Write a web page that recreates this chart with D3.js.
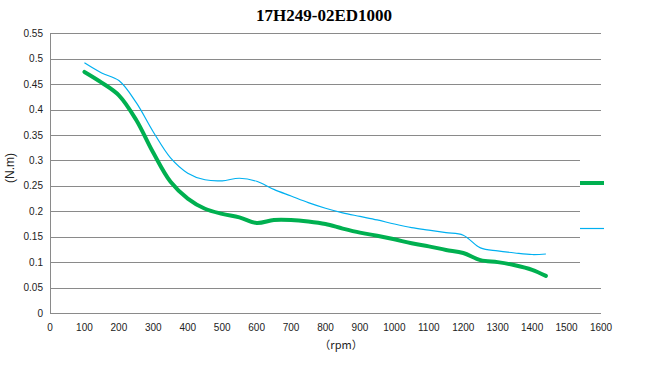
<!DOCTYPE html>
<html>

<head>
  <title>17H249-02ED1000</title>
  <script src="https://cdn.jsdelivr.net/npm/d3@7"></script>
  <style>
    body { margin: 0; background: #fff; }
  </style>
</head>

<body>
  <svg width="647" height="365" id="mainsvg"></svg>
  <script>
    const rpm = [100, 150, 200, 250, 300, 350, 400, 450, 500, 550, 600, 650, 700, 750,
      800, 850, 900, 950, 1000, 1050, 1100, 1150, 1200, 1250, 1300, 1350, 1400, 1440];
    const greenTorque = [0.474, 0.453, 0.428, 0.380, 0.315, 0.258, 0.225, 0.205, 0.195, 0.188, 0.177, 0.183, 0.183, 0.180,
      0.175, 0.166, 0.158, 0.152, 0.145, 0.137, 0.131, 0.124, 0.118, 0.104, 0.100, 0.094, 0.085, 0.073];
    const blueTorque = [0.492, 0.472, 0.457, 0.414, 0.356, 0.305, 0.275, 0.262, 0.260, 0.265, 0.259, 0.243, 0.230, 0.217,
      0.206, 0.197, 0.190, 0.183, 0.175, 0.168, 0.163, 0.158, 0.153, 0.128, 0.122, 0.118, 0.115, 0.116];
    const xTicks = d3.range(0, 1601, 100);
    const yTicks = [0, 0.05, 0.1, 0.15, 0.2, 0.25, 0.3, 0.35, 0.4, 0.45, 0.5, 0.55];

    const svg = d3.select('#mainsvg');
    const x = d3.scaleLinear().domain([0, 1600]).range([50, 601]);
    const y = d3.scaleLinear().domain([0, 0.55]).range([313, 33.3]);
    const grid = '#8a8a8a';
    const tickFont = '"Liberation Sans", Arial, sans-serif';

    // title
    svg.append('text')
      .attr('x', 324).attr('y', 21)
      .attr('text-anchor', 'middle')
      .attr('font-family', '"Liberation Serif", "DejaVu Serif", serif')
      .attr('font-weight', 'bold')
      .attr('font-size', 17)
      .text('17H249-02ED1000');

    // gridlines
    svg.selectAll('line.grid').data(yTicks).join('line')
      .attr('class', 'grid')
      .attr('x1', x(0)).attr('x2', x(1600))
      .attr('y1', d => Math.round(y(d)) + 0.5).attr('y2', d => Math.round(y(d)) + 0.5)
      .attr('stroke', grid).attr('stroke-width', 1);

    // y axis line
    svg.append('line')
      .attr('x1', x(0) + 0.5).attr('x2', x(0) + 0.5)
      .attr('y1', y(0.55)).attr('y2', y(0))
      .attr('stroke', grid).attr('stroke-width', 1);

    // y tick labels
    svg.selectAll('text.ytick').data(yTicks).join('text')
      .attr('class', 'ytick')
      .attr('x', 43).attr('y', d => y(d) + 3.5)
      .attr('text-anchor', 'end')
      .attr('font-family', tickFont).attr('font-size', 10)
      .attr('fill', '#222')
      .text(d => d);

    // x tick labels
    svg.selectAll('text.xtick').data(xTicks).join('text')
      .attr('class', 'xtick')
      .attr('x', d => x(d)).attr('y', 331)
      .attr('text-anchor', 'middle')
      .attr('font-family', tickFont).attr('font-size', 10)
      .attr('fill', '#222')
      .text(d => d);

    // axis titles
    svg.append('text')
      .attr('transform', 'translate(14,168) rotate(-90)')
      .attr('text-anchor', 'middle')
      .attr('font-family', tickFont).attr('font-size', 12)
      .attr('fill', '#222')
      .text('(N.m)');

    svg.append('text')
      .attr('x', 341).attr('y', 349)
      .attr('text-anchor', 'middle')
      .attr('font-family', '"Noto Sans CJK SC", "DejaVu Sans Mono", monospace')
      .attr('font-size', 11)
      .attr('fill', '#222')
      .text('（rpm）');

    // curves
    const line = d3.line()
      .x(d => x(d[0]))
      .y(d => y(d[1]))
      .curve(d3.curveCatmullRom.alpha(0.5));

    svg.append('path')
      .datum(rpm.map((r, i) => [r, blueTorque[i]]))
      .attr('d', line)
      .attr('fill', 'none')
      .attr('stroke', '#00b0f0')
      .attr('stroke-width', 1.2);

    svg.append('path')
      .datum(rpm.map((r, i) => [r, greenTorque[i]]))
      .attr('d', line)
      .attr('fill', 'none')
      .attr('stroke', '#00b050')
      .attr('stroke-width', 4)
      .attr('stroke-linecap', 'round');

    // legend (no labels)
    const legend = svg.append('g');
    legend.append('rect')
      .attr('x', 580).attr('y', 145).attr('width', 28).attr('height', 133)
      .attr('fill', '#fff');
    legend.append('line')
      .attr('x1', 580).attr('x2', 604).attr('y1', 183).attr('y2', 183)
      .attr('stroke', '#00b050').attr('stroke-width', 4);
    legend.append('line')
      .attr('x1', 580).attr('x2', 604).attr('y1', 228.5).attr('y2', 228.5)
      .attr('stroke', '#00b0f0').attr('stroke-width', 1.2);
  </script>
</body>

</html>
